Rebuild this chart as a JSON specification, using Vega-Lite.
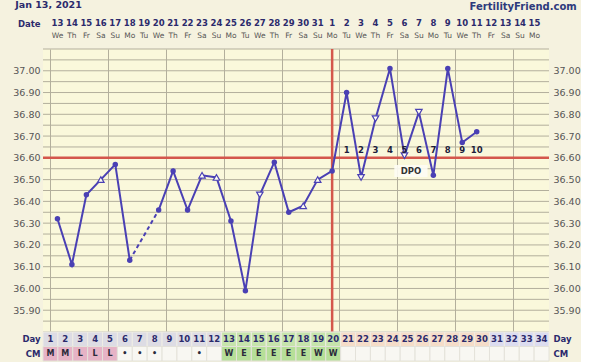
{
  "$schema": "https://vega.github.io/schema/vega-lite/v6.json",
  "background": "#f5f2df",
  "padding": {"left": 12, "top": -3, "right": 0, "bottom": 0},
  "autosize": {"type": "pad"},
  "spacing": 0,
  "bounds": "flush",
  "config": {"view": {"stroke": null}, "font": "DejaVu Sans"},
  "datasets": {
    "days": [
      {"day": 1, "date": 13, "wd": "We", "temp": 36.32, "shape": "c", "cm": "M", "phase": "pre", "cmc": "period", "dpo": null},
      {"day": 2, "date": 14, "wd": "Th", "temp": 36.11, "shape": "c", "cm": "M", "phase": "pre", "cmc": "period", "dpo": null},
      {"day": 3, "date": 15, "wd": "Fr", "temp": 36.43, "shape": "c", "cm": "L", "phase": "pre", "cmc": "period", "dpo": null},
      {"day": 4, "date": 16, "wd": "Sa", "temp": 36.50, "shape": "u", "cm": "L", "phase": "pre", "cmc": "period", "dpo": null},
      {"day": 5, "date": 17, "wd": "Su", "temp": 36.57, "shape": "c", "cm": "L", "phase": "pre", "cmc": "period", "dpo": null},
      {"day": 6, "date": 18, "wd": "Mo", "temp": 36.13, "shape": "c", "cm": "•", "phase": "pre", "cmc": "none", "dpo": null},
      {"day": 7, "date": 19, "wd": "Tu", "temp": null, "shape": null, "cm": "•", "phase": "pre", "cmc": "none", "dpo": null},
      {"day": 8, "date": 20, "wd": "We", "temp": 36.36, "shape": "c", "cm": "•", "phase": "pre", "cmc": "none", "dpo": null},
      {"day": 9, "date": 21, "wd": "Th", "temp": 36.54, "shape": "c", "cm": "", "phase": "pre", "cmc": "none", "dpo": null},
      {"day": 10, "date": 22, "wd": "Fr", "temp": 36.36, "shape": "c", "cm": "", "phase": "pre", "cmc": "none", "dpo": null},
      {"day": 11, "date": 23, "wd": "Sa", "temp": 36.52, "shape": "u", "cm": "•", "phase": "pre", "cmc": "none", "dpo": null},
      {"day": 12, "date": 24, "wd": "Su", "temp": 36.51, "shape": "u", "cm": "", "phase": "pre", "cmc": "none", "dpo": null},
      {"day": 13, "date": 25, "wd": "Mo", "temp": 36.31, "shape": "c", "cm": "W", "phase": "fert", "cmc": "fert", "dpo": null},
      {"day": 14, "date": 26, "wd": "Tu", "temp": 35.99, "shape": "c", "cm": "E", "phase": "fert", "cmc": "fert", "dpo": null},
      {"day": 15, "date": 27, "wd": "We", "temp": 36.43, "shape": "d", "cm": "E", "phase": "fert", "cmc": "fert", "dpo": null},
      {"day": 16, "date": 28, "wd": "Th", "temp": 36.58, "shape": "c", "cm": "E", "phase": "fert", "cmc": "fert", "dpo": null},
      {"day": 17, "date": 29, "wd": "Fr", "temp": 36.35, "shape": "c", "cm": "E", "phase": "fert", "cmc": "fert", "dpo": null},
      {"day": 18, "date": 30, "wd": "Sa", "temp": 36.38, "shape": "u", "cm": "E", "phase": "fert", "cmc": "fert", "dpo": null},
      {"day": 19, "date": 31, "wd": "Su", "temp": 36.50, "shape": "u", "cm": "W", "phase": "fert", "cmc": "fert", "dpo": null},
      {"day": 20, "date": 1, "wd": "Mo", "temp": 36.54, "shape": "c", "cm": "W", "phase": "fert", "cmc": "fert", "dpo": null},
      {"day": 21, "date": 2, "wd": "Tu", "temp": 36.90, "shape": "c", "cm": "", "phase": "post", "cmc": "none", "dpo": 1},
      {"day": 22, "date": 3, "wd": "We", "temp": 36.51, "shape": "d", "cm": "", "phase": "post", "cmc": "none", "dpo": 2},
      {"day": 23, "date": 4, "wd": "Th", "temp": 36.78, "shape": "d", "cm": "", "phase": "post", "cmc": "none", "dpo": 3},
      {"day": 24, "date": 5, "wd": "Fr", "temp": 37.01, "shape": "c", "cm": "", "phase": "post", "cmc": "none", "dpo": 4},
      {"day": 25, "date": 6, "wd": "Sa", "temp": 36.61, "shape": "d", "cm": "", "phase": "post", "cmc": "none", "dpo": 5},
      {"day": 26, "date": 7, "wd": "Su", "temp": 36.81, "shape": "d", "cm": "", "phase": "post", "cmc": "none", "dpo": 6},
      {"day": 27, "date": 8, "wd": "Mo", "temp": 36.52, "shape": "c", "cm": "", "phase": "post", "cmc": "none", "dpo": 7},
      {"day": 28, "date": 9, "wd": "Tu", "temp": 37.01, "shape": "c", "cm": "", "phase": "post", "cmc": "none", "dpo": 8},
      {"day": 29, "date": 10, "wd": "We", "temp": 36.67, "shape": "c", "cm": "", "phase": "post", "cmc": "none", "dpo": 9},
      {"day": 30, "date": 11, "wd": "Th", "temp": 36.72, "shape": "c", "cm": "", "phase": "post", "cmc": "none", "dpo": 10},
      {"day": 31, "date": 12, "wd": "Fr", "temp": null, "shape": null, "cm": "", "phase": "fut", "cmc": "none", "dpo": null},
      {"day": 32, "date": 13, "wd": "Sa", "temp": null, "shape": null, "cm": "", "phase": "fut", "cmc": "none", "dpo": null},
      {"day": 33, "date": 14, "wd": "Su", "temp": null, "shape": null, "cm": "", "phase": "fut", "cmc": "none", "dpo": null},
      {"day": 34, "date": 15, "wd": "Mo", "temp": null, "shape": null, "cm": "", "phase": "fut", "cmc": "none", "dpo": null}
    ]
  },
  "vconcat": [
    {
      "width": 506, "height": 52,
      "data": {"name": "days"},
      "layer": [
        {
          "mark": {"type": "text", "fontWeight": "bold", "fontSize": 8.5, "color": "#2b2a6c", "baseline": "middle"},
          "encoding": {
            "x": {"field": "day", "type": "quantitative", "scale": {"domain": [0.5, 34.5]}, "axis": null},
            "y": {"datum": "n", "type": "nominal", "scale": {"type": "point", "domain": ["t", "n", "w"], "padding": 0.926},
                  "axis": {"orient": "left", "labelExpr": "datum.value == 'n' ? 'Date' : ''", "ticks": false, "domain": false, "title": null, "labelPadding": 3, "labelFontWeight": "bold", "labelFontSize": 8.5, "labelColor": "#2b2a6c", "labelFont": "DejaVu Sans"}},
            "text": {"field": "date"}
          }
        },
        {
          "mark": {"type": "text", "fontSize": 7.5, "color": "#555555", "baseline": "middle"},
          "encoding": {
            "x": {"field": "day", "type": "quantitative"},
            "y": {"datum": "w", "type": "nominal", "axis": null},
            "text": {"field": "wd"}
          }
        },
        {
          "data": {"values": [{"label": "Jan 13, 2021"}]},
          "mark": {"type": "text", "fontWeight": "bold", "fontSize": 9.5, "color": "#2b2a6c", "align": "left", "baseline": "alphabetic", "dy": -2},
          "encoding": {
            "x": {"datum": -1.92, "type": "quantitative"},
            "y": {"datum": "t", "type": "nominal", "axis": null},
            "text": {"field": "label"}
          }
        },
        {
          "data": {"values": [{"label": "FertilityFriend.com"}]},
          "mark": {"type": "text", "fontWeight": "bold", "fontSize": 10, "color": "#2d3a7c", "align": "right", "baseline": "alphabetic", "dy": 0},
          "encoding": {
            "x": {"datum": 36.92, "type": "quantitative"},
            "y": {"datum": "t", "type": "nominal", "axis": null},
            "text": {"field": "label"}
          }
        }
      ],
      "resolve": {"axis": {"y": "independent"}}
    },
    {
      "width": 506, "height": 283,
      "view": {"fill": "#faf8db", "stroke": null},
      "data": {"name": "days"},
      "layer": [
        {
          "transform": [{"filter": "isValid(datum.temp)"}],
          "mark": {"type": "point", "opacity": 0},
          "encoding": {
            "x": {"field": "day", "type": "quantitative", "scale": {"domain": [0.5, 34.5]},
                  "axis": {"values": [0.5,1.5,2.5,3.5,4.5,5.5,6.5,7.5,8.5,9.5,10.5,11.5,12.5,13.5,14.5,15.5,16.5,17.5,18.5,19.5,20.5,21.5,22.5,23.5,24.5,25.5,26.5,27.5,28.5,29.5,30.5,31.5,32.5,33.5,34.5],
                           "grid": true, "gridColor": "#b3af9c", "gridOpacity": 1, "gridWidth": 1, "labels": false, "ticks": false, "domain": false, "title": null}},
            "y": {"field": "temp", "type": "quantitative", "scale": {"domain": [35.8, 37.1], "zero": false, "nice": false},
                  "axis": {"orient": "left", "values": [35.9,36.0,36.1,36.2,36.3,36.4,36.5,36.6,36.7,36.8,36.9,37.0], "format": ".2f", "grid": false, "ticks": false, "domain": false, "title": null, "labelPadding": 3, "labelFontSize": 9.5, "labelColor": "#555555", "labelFont": "DejaVu Sans"}}
          }
        },
        {
          "data": {"values": [{"g": 35.8}, {"g": 35.85}, {"g": 35.9}, {"g": 35.95}, {"g": 36.0}, {"g": 36.05}, {"g": 36.1}, {"g": 36.15}, {"g": 36.2}, {"g": 36.25}, {"g": 36.3}, {"g": 36.35}, {"g": 36.4}, {"g": 36.45}, {"g": 36.5}, {"g": 36.55}, {"g": 36.6}, {"g": 36.65}, {"g": 36.7}, {"g": 36.75}, {"g": 36.8}, {"g": 36.85}, {"g": 36.9}, {"g": 36.95}, {"g": 37.0}, {"g": 37.05}, {"g": 37.1}]},
          "mark": {"type": "rule", "color": "#b3af9c", "strokeWidth": 1},
          "encoding": {
            "y": {"field": "g", "type": "quantitative", "axis": null}
          }
        },
        {
          "mark": {"type": "rule", "color": "#d4574c", "strokeWidth": 2.5},
          "transform": [{"filter": "datum.day == 1"}],
          "encoding": {
            "y": {"datum": 36.6, "type": "quantitative", "axis": null}
          }
        },
        {
          "mark": {"type": "rule", "color": "#d4574c", "strokeWidth": 2.5},
          "transform": [{"filter": "datum.day == 1"}],
          "encoding": {
            "x": {"datum": 20, "type": "quantitative"}
          }
        },
        {
          "data": {"values": [{"box": "DPO"}]},
          "mark": {"type": "rect", "color": "#fdfcf4", "opacity": 0.9},
          "encoding": {
            "x": {"datum": 24.3, "type": "quantitative"},
            "x2": {"datum": 26.6},
            "y": {"datum": 36.567, "type": "quantitative", "axis": null},
            "y2": {"datum": 36.512}
          }
        },
        {
          "transform": [{"filter": "datum.day == 6 || datum.day == 8"}],
          "mark": {"type": "line", "color": "#4a40b4", "strokeWidth": 2, "strokeDash": [4, 3]},
          "encoding": {
            "x": {"field": "day", "type": "quantitative"},
            "y": {"field": "temp", "type": "quantitative", "axis": null}
          }
        },
        {
          "transform": [{"filter": "isValid(datum.temp)"}, {"calculate": "datum.day < 7 ? 'a' : 'b'", "as": "seg"}],
          "mark": {"type": "line", "color": "#4a40b4", "strokeWidth": 2},
          "encoding": {
            "x": {"field": "day", "type": "quantitative"},
            "y": {"field": "temp", "type": "quantitative", "axis": null},
            "detail": {"field": "seg"}
          }
        },
        {
          "transform": [{"filter": "datum.shape == 'c'"}],
          "mark": {"type": "point", "shape": "circle", "filled": true, "color": "#4a40b4", "size": 30, "opacity": 1},
          "encoding": {
            "x": {"field": "day", "type": "quantitative"},
            "y": {"field": "temp", "type": "quantitative",
                  "axis": {"orient": "right", "values": [35.9,36.0,36.1,36.2,36.3,36.4,36.5,36.6,36.7,36.8,36.9,37.0], "format": ".2f", "grid": false, "ticks": false, "domain": false, "title": null, "labelPadding": 4, "labelFontSize": 9.5, "labelColor": "#555555", "labelFont": "DejaVu Sans"}}
          }
        },
        {
          "transform": [{"filter": "datum.shape == 'u'"}],
          "mark": {"type": "point", "shape": "triangle-up", "fill": "#fdfcf2", "stroke": "#4a40b4", "strokeWidth": 1.2, "size": 42, "opacity": 1, "fillOpacity": 1},
          "encoding": {
            "x": {"field": "day", "type": "quantitative"},
            "y": {"field": "temp", "type": "quantitative", "axis": null}
          }
        },
        {
          "transform": [{"filter": "datum.shape == 'd'"}],
          "mark": {"type": "point", "shape": "triangle-down", "fill": "#fdfcf2", "stroke": "#4a40b4", "strokeWidth": 1.2, "size": 42, "opacity": 1, "fillOpacity": 1},
          "encoding": {
            "x": {"field": "day", "type": "quantitative"},
            "y": {"field": "temp", "type": "quantitative", "axis": null}
          }
        },
        {
          "transform": [{"filter": "isValid(datum.dpo)"}],
          "mark": {"type": "text", "fontWeight": "bold", "fontSize": 8.5, "color": "#1e1e3c", "baseline": "bottom", "dy": -3},
          "encoding": {
            "x": {"field": "day", "type": "quantitative"},
            "y": {"datum": 36.6, "type": "quantitative", "axis": null},
            "text": {"field": "dpo"}
          }
        },
        {
          "data": {"values": [{"label": "DPO"}]},
          "mark": {"type": "text", "fontWeight": "bold", "fontSize": 8.5, "color": "#333333", "baseline": "middle"},
          "encoding": {
            "x": {"datum": 25.45, "type": "quantitative"},
            "y": {"datum": 36.54, "type": "quantitative", "axis": null},
            "text": {"field": "label"}
          }
        }
      ],
      "resolve": {"axis": {"y": "independent"}}
    },
    {
      "width": 506, "height": 29,
      "data": {"name": "days"},
      "layer": [
        {
          "mark": {"type": "rect", "stroke": "#efede4", "strokeWidth": 1},
          "encoding": {
            "x": {"field": "day", "type": "ordinal", "scale": {"paddingInner": 0, "paddingOuter": 0}, "axis": null},
            "y": {"datum": "Day", "type": "nominal", "scale": {"domain": ["Day", "CM"], "paddingInner": 0, "paddingOuter": 0},
                  "axis": {"orient": "left", "ticks": false, "domain": false, "title": null, "labelPadding": 3, "labelFontWeight": "bold", "labelFontSize": 8.5, "labelColor": "#2b2a6c", "labelFont": "DejaVu Sans"}},
            "color": {"field": "phase", "type": "nominal", "scale": {"domain": ["pre", "fert", "post", "fut"], "range": ["#dddce4", "#c6e4ac", "#f5ddc9", "#dcdcef"]}, "legend": null}
          }
        },
        {
          "mark": {"type": "rect", "stroke": "#e4e2da", "strokeWidth": 1},
          "encoding": {
            "x": {"field": "day", "type": "ordinal"},
            "y": {"datum": "CM", "type": "nominal",
                  "axis": {"orient": "right", "ticks": false, "domain": false, "title": null, "labelPadding": 4, "labelFontWeight": "bold", "labelFontSize": 8.5, "labelColor": "#2b2a6c", "labelFont": "DejaVu Sans"}},
            "fill": {"field": "cmc", "type": "nominal", "scale": {"domain": ["period", "none", "fert"], "range": ["#e6b3c6", "#f8f7f2", "#b6df98"]}, "legend": null}
          }
        },
        {
          "mark": {"type": "text", "fontWeight": "bold", "fontSize": 8.5, "color": "#2b2a6c", "baseline": "middle"},
          "encoding": {
            "x": {"field": "day", "type": "ordinal", "band": 0.5},
            "y": {"datum": "Day", "type": "nominal", "band": 0.5, "axis": null},
            "text": {"field": "day"}
          }
        },
        {
          "mark": {"type": "text", "fontWeight": "bold", "fontSize": 8, "color": "#2a2a3a", "baseline": "middle"},
          "encoding": {
            "x": {"field": "day", "type": "ordinal", "band": 0.5},
            "y": {"datum": "CM", "type": "nominal", "band": 0.5, "axis": null},
            "text": {"field": "cm"}
          }
        }
      ],
      "resolve": {"axis": {"y": "independent"}, "scale": {"color": "independent", "fill": "independent"}}
    }
  ]
}
